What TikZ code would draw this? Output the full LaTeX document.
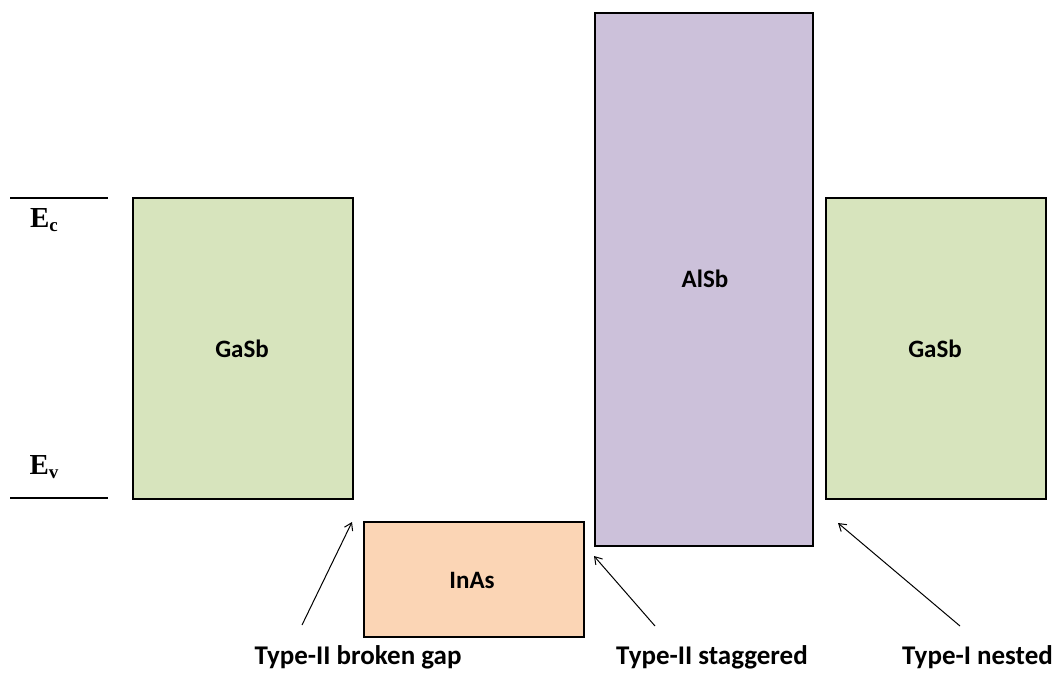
\documentclass[tikz,border=0pt]{standalone}
\usepackage{fontspec}
\setmainfont{Carlito}
\newfontfamily\serifb{Liberation Serif}
\usetikzlibrary{arrows.meta}
\definecolor{gasbfill}{RGB}{215,228,189}
\definecolor{inasfill}{RGB}{251,213,181}
\definecolor{alsbfill}{RGB}{204,193,218}
\tikzset{
  band/.style={draw=black, line width=2pt, inner sep=0pt, anchor=north west},
  bandtxt/.style={font=\bfseries\fontsize{25}{28}\selectfont, inner sep=0pt},
  level/.style={draw=black, line width=1.2pt},
  lbl/.style={font=\bfseries\fontsize{27}{30}\selectfont, inner sep=0pt},
  elbl/.style={font=\serifb\bfseries\fontsize{29}{30}\selectfont, inner sep=0pt},
  pointer/.style={draw=black, line width=1pt, -{Straight Barb[length=7pt,width=9pt]}}
}
\newcommand{\esub}[1]{\raisebox{-0.35ex}{\fontsize{19}{20}\selectfont #1}}
\begin{document}
\begin{tikzpicture}[x=1pt,y=-1pt]
\useasboundingbox (0,0) rectangle (1057,672);
% band boxes
\node[band, fill=gasbfill, minimum width=220pt, minimum height=301pt] (gasb1) at (132,197) {};
\node[band, fill=inasfill, minimum width=220pt, minimum height=115pt] (inas) at (363,521) {};
\node[band, fill=alsbfill, minimum width=218pt, minimum height=533pt] (alsb) at (594,12) {};
\node[band, fill=gasbfill, minimum width=220pt, minimum height=301pt] (gasb2) at (825,197) {};
\node[bandtxt] (gasb1lbl) at (242,349) {GaSb};
\node[bandtxt] (inaslbl) at (472,580) {InAs};
\node[bandtxt] (alsblbl) at (705,279) {AlSb};
\node[bandtxt] (gasb2lbl) at (935,349) {GaSb};
% energy levels
\coordinate (ecL) at (10,198); \coordinate (ecR) at (108,198);
\coordinate (evL) at (10,498); \coordinate (evR) at (108,498);
\draw[level] (ecL) -- (ecR);
\draw[level] (evL) -- (evR);
\node[elbl] (ec) at (44,220) {E\esub{c}};
\node[elbl] (ev) at (44,467) {E\esub{v}};
% labels
\node[lbl] (broken) at (358,657) {Type-II broken gap};
\node[lbl] (stag) at (712,657) {Type-II staggered};
\node[lbl, anchor=west] (nested) at (902,657) {Type-I nested};
% pointers
\coordinate (p1s) at (302,625); \coordinate (p1e) at (352,522);
\coordinate (p2s) at (655,626); \coordinate (p2e) at (594,556);
\coordinate (p3s) at (960,626); \coordinate (p3e) at (838,523);
\draw[pointer] (p1s) -- (p1e);
\draw[pointer] (p2s) -- (p2e);
\draw[pointer] (p3s) -- (p3e);
\end{tikzpicture}
\end{document}
